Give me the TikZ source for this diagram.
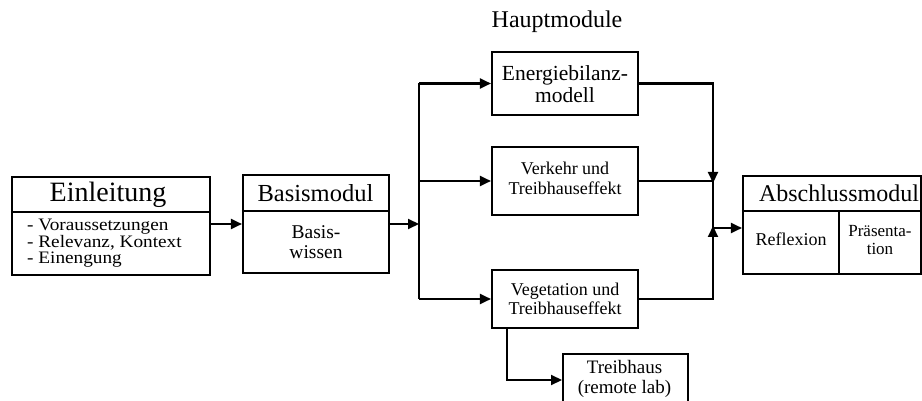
\documentclass[tikz,border=0pt]{standalone}
\usepackage{fontspec}
\setmainfont{Liberation Serif}
\newfontfamily\widefont[FakeStretch=1.1]{Liberation Serif}
\usetikzlibrary{arrows.meta}
\begin{document}
\begin{tikzpicture}[x=1pt,y=-1pt,
  box/.style={draw, line width=2.1pt, inner sep=0pt},
  ln/.style={line width=2.1pt},
  arr/.style={line width=2.1pt, -{Triangle[length=11pt,width=10pt]}},
  txt/.style={inner sep=0pt, align=center, font=\fontsize{#1}{#1}\selectfont},
]
\useasboundingbox (0,0) rectangle (922,401);

% title
\node[txt=24] (haupt) at (557,22) {Hauptmodule};

% Einleitung
\node[box, minimum width=198pt, minimum height=98pt] (einl) at (111,226) {};
\draw[ln] (einl.west |- 0,212) -- (einl.east |- 0,212);
\node[txt=28] (einlT) at (108,194.5) {Einleitung};
\node[inner sep=0pt, anchor=base west, font=\widefont\fontsize{17.5}{17.5}\selectfont] (einl1) at (27,231) {- Voraussetzungen};
\node[inner sep=0pt, anchor=base west, font=\widefont\fontsize{17.5}{17.5}\selectfont] (einl2) at (27,247.5) {- Relevanz, Kontext};
\node[inner sep=0pt, anchor=base west, font=\widefont\fontsize{17.5}{17.5}\selectfont] (einl3) at (27,264) {- Einengung};

% Basismodul
\node[box, minimum width=146pt, minimum height=98pt] (bas) at (316,224) {};
\draw[ln] (bas.west |- 0,211) -- (bas.east |- 0,211);
\node[txt=24.5] (basT) at (315.5,193) {Basismodul};
\node[txt=19.5, font=\fontsize{19.5}{20}\selectfont] (basB) at (316,242) {Basis-\\wissen};

% Hauptmodule boxes
\node[box, minimum width=146pt, minimum height=63pt] (ener) at (565,83.5) {};
\node[txt=21.5, font=\fontsize{21.5}{22}\selectfont] (enerT) at (565,84) {Energiebilanz-\\modell};

\node[box, minimum width=146pt, minimum height=68pt] (verk) at (565,181) {};
\node[txt=18, font=\fontsize{18}{20}\selectfont] (verkT) at (565,178) {Verkehr und\\Treibhauseffekt};

\node[box, minimum width=146pt, minimum height=58pt] (veg) at (565,299) {};
\node[txt=18, font=\fontsize{18}{18.5}\selectfont] (vegT) at (565,299) {Vegetation und\\Treibhauseffekt};

\node[box, minimum width=125pt, minimum height=56pt, anchor=north west] (treib) at (562,353) {};
\node[txt=19, font=\fontsize{19}{20}\selectfont] (treibT) at (624.5,379) {Treibhaus\\(remote lab)};

% Abschlussmodul
\node[box, minimum width=178pt, minimum height=98pt] (abs) at (832,225) {};
\draw[ln] (abs.west |- 0,211) -- (abs.east |- 0,211);
\draw[ln] (839,211) -- (abs.south -| 839,0);
\node[txt=24] (absT) at (839,193) {Abschlussmodul};
\node[txt=18] (refl) at (791,239) {Reflexion};
\node[txt=17, font=\fontsize{17}{18}\selectfont] (praes) at (880,240) {Präsenta-\\tion};

% junction coordinates
\coordinate (jl) at (419,224);
\coordinate (jtop) at (419,83.5);
\coordinate (jbot) at (419,299);
\coordinate (rtop) at (713,83.5);
\coordinate (rmid) at (713,181);
\coordinate (rjoin) at (713,228);
\coordinate (rbot) at (713,299);
\coordinate (tb) at (507,380);

% connectors
\draw[arr] (einl.east |- bas.west) -- (bas.west);
\draw[arr] (bas.east) -- (jl);
\draw[ln] (jtop) -- (jbot);
\draw[arr] (jtop) -- (ener.west);
\draw[arr] (jtop |- verk.west) -- (verk.west);
\draw[arr] (jbot) -- (veg.west);

\draw[arr] (ener.east) -- (rtop) -- ([yshift=-2pt]rmid);
\draw[ln] (verk.east) -- (rmid) -- (rjoin);
\draw[arr] (veg.east) -- (rbot) -- ([yshift=2pt]rjoin);
\draw[arr] (rjoin) -- (abs.west |- rjoin);

\draw[arr] (veg.south -| tb) -- (tb) -- (treib.west |- tb);
\end{tikzpicture}
\end{document}
